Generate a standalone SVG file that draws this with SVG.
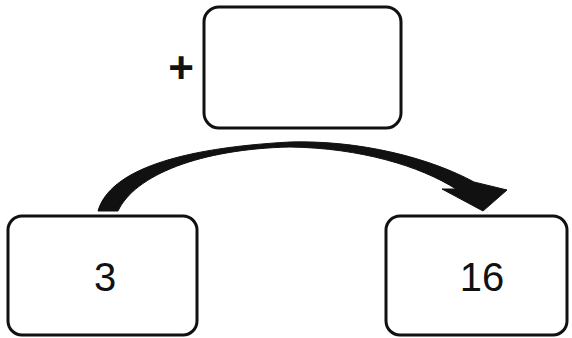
<svg xmlns="http://www.w3.org/2000/svg" width="572" height="338" viewBox="0 0 572 338">
<style>
.box{fill:#fff;stroke:#111;stroke-width:3}
.lbl{font-family:"Liberation Sans",Arial,sans-serif;font-size:40px;fill:#111;text-anchor:middle}
.plus{font-family:"Liberation Sans",Arial,sans-serif;font-size:44px;font-weight:bold;fill:#111;text-anchor:middle}
.arrow{fill:#111;stroke:#111;stroke-width:1;stroke-linejoin:round}
</style>
<rect width="572" height="338" fill="#fff"/>
<g id="connectors">
<path class="arrow" d="M 98 211 C 110 170, 180 148, 290 142 C 360 140, 430 158, 474 182 L 507 190 L 483 211 L 442 189 L 456 189 C 420 166, 360 148, 290 147 C 200 149, 135 175, 118 211 Z"/>
</g>
<g id="node-top">
<rect class="box" x="204" y="7" width="197" height="121" rx="15"/>
</g>
<g id="node-plus">
<text class="plus" x="181" y="83">+</text>
</g>
<g id="node-3">
<rect class="box" x="8" y="216" width="189" height="119" rx="14"/>
<text class="lbl" x="105" y="291">3</text>
</g>
<g id="node-16">
<rect class="box" x="386" y="216" width="181" height="119" rx="14"/>
<text class="lbl" x="482" y="291">16</text>
</g>
</svg>
